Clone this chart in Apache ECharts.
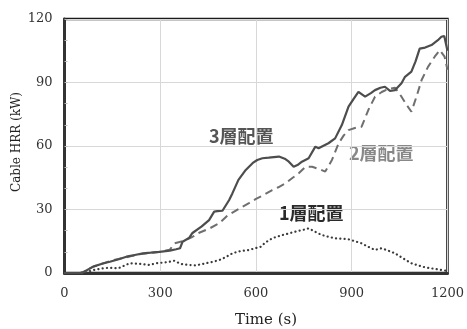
<!DOCTYPE html>
<html>
<head>
<meta charset="utf-8">
<script src="https://cdn.jsdelivr.net/npm/echarts@6/dist/echarts.min.js"></script>
<style>
  html, body { margin: 0; padding: 0; background: #fff; }
  #chart { width: 467px; height: 329px; }
</style>
</head>
<body>
<div id="chart"></div>
<script>
// Cable heat release rate over time for three tray arrangements
const xTicks = [0, 300, 600, 900, 1200];
const yTicks = [0, 30, 60, 90, 120];

// 3層配置 (three-tier arrangement)
const time3 = [0, 50, 60, 90, 120, 142, 170, 194, 220, 246, 270, 298, 330, 350, 362, 370, 390, 401, 430, 453, 469, 479, 495, 516, 526, 545, 568, 590, 604, 620, 640, 672, 690, 703, 718, 730, 744, 765, 786, 796, 810, 827, 848, 869, 890, 905, 921, 942, 960, 973, 990, 1004, 1020, 1036, 1056, 1067, 1087, 1100, 1113, 1130, 1150, 1170, 1181, 1190, 1200];
const hrr3 = [0, 0, 0.5, 3, 4.5, 5.3, 6.5, 7.7, 8.5, 9.3, 9.6, 10, 10.6, 11.2, 11.7, 14.8, 16.5, 18.9, 22, 25, 29, 29.2, 29.4, 34.5, 37.6, 44, 48.7, 52, 53.4, 54.2, 54.5, 55, 54, 52.6, 50.2, 51, 52.6, 54.2, 59.7, 58.9, 60, 61.3, 63.6, 69.9, 78.6, 82, 85.6, 83.3, 85, 86.4, 87.5, 88, 86, 86.4, 89.6, 92.7, 95.1, 100, 106, 106.5, 107.7, 110, 111.6, 112, 105];

// 2層配置 (two-tier arrangement)
const time2 = [0, 50, 60, 90, 120, 150, 180, 210, 240, 270, 300, 330, 345, 370, 400, 422, 454, 485, 510, 537, 560, 578, 600, 620, 651, 670, 693, 715, 734, 755, 776, 800, 817, 838, 859, 875, 890, 910, 931, 952, 973, 994, 1015, 1036, 1056, 1072, 1087, 1103, 1119, 1139, 1160, 1176, 1191, 1200];
const hrr2 = [0, 0, 0.5, 3, 4.5, 6, 7, 8, 9, 9.5, 10, 11, 14, 15, 17, 19, 21, 23.5, 27, 29.5, 31.5, 33, 35, 36.5, 39.2, 40.5, 42.4, 45, 47.1, 50.2, 50.2, 49, 47.9, 53.4, 61.3, 65, 67.5, 68.5, 69.1, 77, 83.3, 85.5, 87, 87.5, 83.3, 79.4, 76.2, 83.3, 91.2, 97.4, 102.2, 105.3, 102.2, 96];

// 1層配置 (single-tier arrangement)
const time1 = [0, 60, 90, 120, 142, 168, 204, 230, 246, 266, 287, 308, 329, 344, 360, 370, 390, 412, 443, 465, 485, 505, 526, 550, 578, 600, 615, 630, 651, 680, 703, 730, 755, 765, 785, 807, 830, 848, 870, 890, 910, 931, 950, 973, 994, 1015, 1036, 1060, 1087, 1110, 1129, 1150, 1170, 1196, 1200];
const hrr1 = [0, 0, 1.4, 2.2, 2.5, 2.2, 4.6, 4.4, 4.2, 3.8, 4.6, 4.9, 5.3, 5.8, 4.6, 4.1, 3.8, 3.6, 4.6, 5.3, 6.1, 7.5, 9.3, 10.3, 10.9, 11.8, 12.4, 14.5, 16.4, 17.8, 18.7, 19.8, 20.6, 21.1, 19.5, 17.9, 17, 16.4, 16.2, 15.9, 15, 14, 12.5, 10.9, 11.7, 10.5, 9.3, 7, 4.6, 3.5, 2.7, 2.2, 1.7, 1.1, 1];

const pairs = (ts, vs) => ts.map((t, i) => [t, vs[i]]);

const serif = '"DejaVu Serif", "Liberation Serif", serif';
const cjk = '"Noto Sans CJK JP", "Noto Sans", sans-serif';

const chart = echarts.init(document.getElementById('chart'));
chart.setOption({
  animation: false,
  backgroundColor: '#fff',
  grid: {
    left: 64.5, right: 18, top: 19, bottom: 56,
    show: true, borderColor: '#1a1a1a', borderWidth: 2.5, backgroundColor: 'transparent'
  },
  xAxis: {
    type: 'value', min: xTicks[0], max: xTicks[xTicks.length - 1], interval: 300,
    axisLine: { show: true, lineStyle: { color: '#333', width: 3 } },
    axisTick: { show: false },
    axisLabel: { color: '#333', fontFamily: serif, fontSize: 13, margin: 14, formatter: v => String(v) },
    splitLine: { show: true, lineStyle: { color: '#d8d8d8', width: 1 } }
  },
  yAxis: {
    type: 'value', min: yTicks[0], max: yTicks[yTicks.length - 1], interval: 30,
    axisLine: { show: true, lineStyle: { color: '#333', width: 3 } },
    axisTick: { show: true, inside: true, length: 3, lineStyle: { color: '#bbb' } },
    minorTick: { show: true, splitNumber: 3, length: 3, lineStyle: { color: '#bbb' } },
    axisLabel: { color: '#333', fontFamily: serif, fontSize: 13, margin: 12, formatter: v => String(v) },
    splitLine: { show: true, lineStyle: { color: '#d8d8d8', width: 1 } }
  },
  series: [
    {
      name: '1層配置', type: 'line', data: pairs(time1, hrr1), showSymbol: false, z: 3,
      lineStyle: { color: '#3a3a3a', width: 2.2, type: [0.1, 4.2], cap: 'round' }
    },
    {
      name: '2層配置', type: 'line', data: pairs(time2, hrr2), showSymbol: false, z: 4,
      lineStyle: { color: '#6f6f6f', width: 2, type: [8, 5] }
    },
    {
      name: '3層配置', type: 'line', data: pairs(time3, hrr3), showSymbol: false, z: 5,
      lineStyle: { color: '#4d4d4d', width: 2.2 }
    }
  ],
  graphic: [
    { type: 'text', left: 209, top: 127, style: { text: '3層配置', font: 'bold 18px ' + cjk, fill: '#555' } },
    { type: 'text', left: 349, top: 144, style: { text: '2層配置', font: 'bold 18px ' + cjk, fill: '#888' } },
    { type: 'text', left: 279, top: 204, style: { text: '1層配置', font: 'bold 18px ' + cjk, fill: '#2a2a2a' } },
    { type: 'text', left: 235, top: 313, style: { text: 'Time (s)', font: '15px ' + serif, fill: '#222' } },
    { type: 'text', x: 17, y: 142, rotation: Math.PI / 2,
      style: { text: 'Cable HRR (kW)', font: '12px ' + serif, fill: '#222', align: 'center', verticalAlign: 'middle' } }
  ]
});
</script>
</body>
</html>
